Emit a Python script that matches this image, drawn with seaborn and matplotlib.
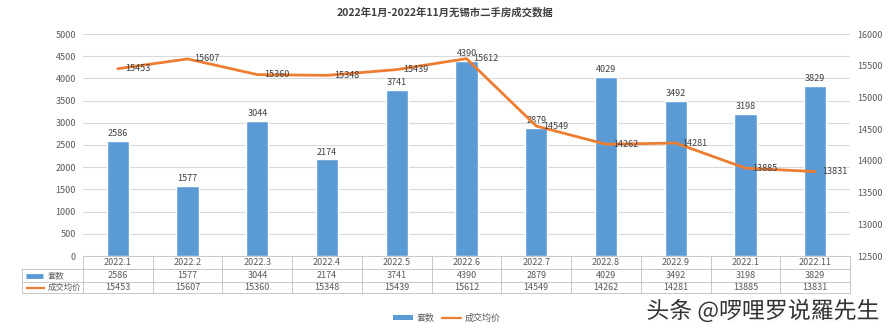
import numpy as np
import pandas as pd
import matplotlib
matplotlib.use("Agg")
import matplotlib.pyplot as plt
import matplotlib.transforms as mtransforms
import matplotlib.patheffects as pe
from matplotlib.patches import Patch
from matplotlib.lines import Line2D
import seaborn as sns

# ---- data ----
months = ["2022.1", "2022.2", "2022.3", "2022.4", "2022.5", "2022.6",
          "2022.7", "2022.8", "2022.9", "2022.10", "2022.11"]
tick_labels = ["2022.1", "2022.2", "2022.3", "2022.4", "2022.5", "2022.6",
               "2022.7", "2022.8", "2022.9", "2022.1", "2022.11"]
units = [2586, 1577, 3044, 2174, 3741, 4390, 2879, 4029, 3492, 3198, 3829]
prices = [15453, 15607, 15360, 15348, 15439, 15612, 14549, 14262, 14281, 13885, 13831]
series_names = ["套数", "成交均价"]
title = "2022年1月-2022年11月无锡市二手房成交数据"
watermark = "头条 @啰哩罗说羅先生"

sns.set_theme(style="white")
plt.rcParams["font.family"] = ["Noto Sans CJK SC", "DejaVu Sans"]

BLUE = "#5B9BD5"
ORANGE = "#ED7D31"
GRID = "#D9D9D9"
TXT = "#595959"
FS = 6.5

df = pd.DataFrame({"idx": np.arange(len(months)), "month": months,
                   "units": units, "price": prices})

fig = plt.figure(figsize=(8.89, 3.32), dpi=100)
ax = fig.add_axes([83 / 889, 1 - 256 / 332, (850 - 83) / 889, (256 - 34) / 332])

sns.barplot(data=df, x="idx", y="units", color=BLUE, width=0.32,
            saturation=1, ax=ax, zorder=2)
ax.set_xlim(-0.5, len(months) - 0.5)
ax.set_ylim(0, 5000)
ax.set_yticks(np.arange(0, 5001, 500))
ax.yaxis.grid(True, color=GRID, linewidth=0.8, zorder=0)
ax.set_axisbelow(True)
ax.set_xticks([])
ax.set_xlabel("")
ax.set_ylabel("")
ax.tick_params(axis="y", labelsize=FS, labelcolor=TXT, length=0, pad=5)
for s in ax.spines.values():
    s.set_visible(False)
ax.bar_label(ax.containers[0], padding=2, fontsize=FS, color="#404040")

ax2 = ax.twinx()
sns.lineplot(data=df, x="idx", y="price", color=ORANGE, linewidth=2.0,
             ax=ax2, zorder=3)
ax2.set_ylim(12500, 16000)
ax2.set_yticks(np.arange(12500, 16001, 500))
ax2.set_xlim(-0.5, len(months) - 0.5)
ax2.set_xlabel("")
ax2.set_ylabel("")
ax2.tick_params(axis="y", labelsize=FS, labelcolor=TXT, length=0, pad=5)
ax2.grid(False)
for s in ax2.spines.values():
    s.set_visible(False)
for i, p in enumerate(prices):
    ax2.annotate(str(p), (i, p), xytext=(5, 0), textcoords="offset points",
                 fontsize=FS, color="#404040", va="center", ha="left")

# ---- data table ----
trans = mtransforms.blended_transform_factory(ax.transData, ax.transAxes)
def ay(px):
    return (256 - px) / 222.0
n = len(months)
lkw = dict(color="#BFBFBF", linewidth=0.6, clip_on=False, zorder=1)
xl_hdr = -0.5 - 61 / (767 / 11)
ax.plot([-0.5, n - 0.5], [ay(256), ay(256)], transform=trans, **lkw)
for yy in (269, 282, 293):
    ax.plot([xl_hdr, n - 0.5], [ay(yy), ay(yy)], transform=trans, **lkw)
for b in np.arange(-0.5, n, 1.0):
    ax.plot([b, b], [ay(256), ay(293)], transform=trans, **lkw)
ax.plot([xl_hdr, xl_hdr], [ay(269), ay(293)], transform=trans, **lkw)
for i in range(n):
    ax.text(i, ay(262.5), tick_labels[i], transform=trans, ha="center",
            va="center", fontsize=FS, color=TXT)
    ax.text(i, ay(275.5), str(units[i]), transform=trans, ha="center",
            va="center", fontsize=FS, color=TXT)
    ax.text(i, ay(287.5), str(prices[i]), transform=trans, ha="center",
            va="center", fontsize=FS, color=TXT)
kx0 = xl_hdr + 4 / (767 / 11)
kx1 = xl_hdr + 21 / (767 / 11)
ax.plot([kx0, kx1], [ay(275.5), ay(275.5)], transform=trans, color=BLUE,
        linewidth=3.5, solid_capstyle="butt", clip_on=False)
ax.plot([kx0, kx1 + 2 / (767 / 11)], [ay(287.5), ay(287.5)], transform=trans,
        color=ORANGE, linewidth=1.6, solid_capstyle="butt", clip_on=False)
tx = xl_hdr + 26 / (767 / 11)
ax.text(tx, ay(275.5), series_names[0], transform=trans, ha="left",
        va="center", fontsize=6, color=TXT)
ax.text(tx, ay(287.5), series_names[1], transform=trans, ha="left",
        va="center", fontsize=6, color=TXT)

# ---- legend ----
handles = [Patch(facecolor=BLUE, edgecolor="none"),
           Line2D([0], [0], color=ORANGE, linewidth=1.6)]
fig.legend(handles, series_names, loc="center", bbox_to_anchor=(447 / 889, 1 - 318 / 332),
           ncol=2, frameon=False, fontsize=FS, labelcolor=TXT,
           handlelength=2.2, handleheight=0.5, columnspacing=0.8, handletextpad=0.4)

# ---- title ----
fig.text(445 / 889, 1 - 12 / 332, title, ha="center", va="center",
         fontsize=7.5, color="#404040", fontweight="bold")

# ---- watermark ----
fig.text(879 / 889, 1 - 311 / 332, watermark, ha="right", va="center",
         fontsize=16.5, color="#333333",
         path_effects=[pe.withSimplePatchShadow(offset=(1, -1), shadow_rgbFace="#999999", alpha=0.5),
                       pe.withStroke(linewidth=2.5, foreground="white")])

fig.savefig("out.png", dpi=100, facecolor="white")
